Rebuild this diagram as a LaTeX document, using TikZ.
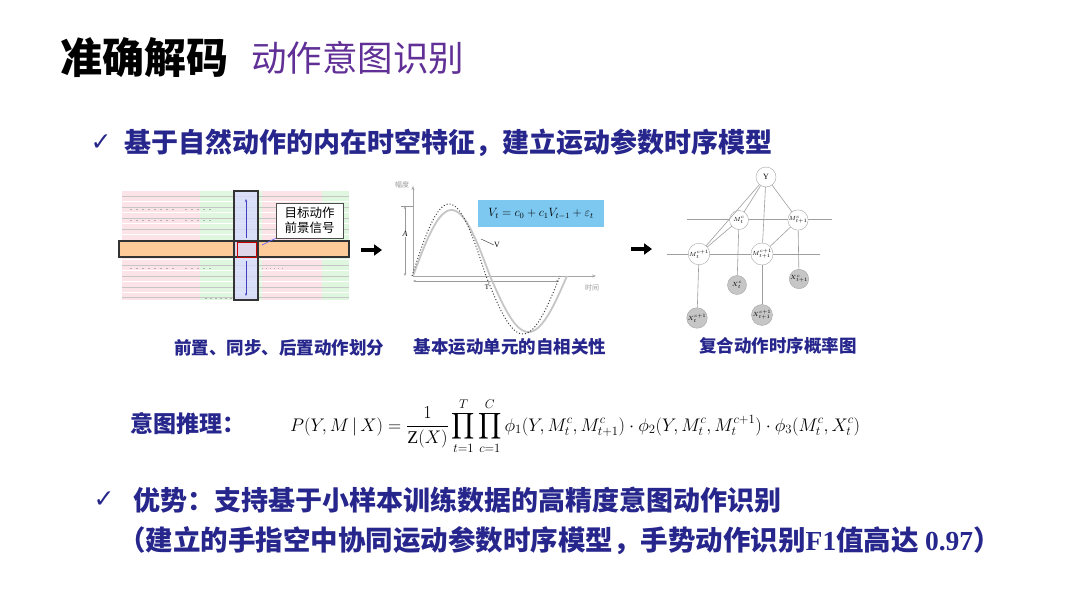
\documentclass[tikz,border=0pt]{standalone}
\usepackage{amsmath}
\usepackage{graphicx}
\usepackage{fontspec}
\setmainfont{Liberation Serif}
\newfontfamily\cjk{Noto Sans CJK SC}
\newfontfamily\sym{DejaVu Sans}
\newfontfamily\tms{Liberation Serif}
\usetikzlibrary{arrows.meta}
\definecolor{navy}{RGB}{38,38,140}
\definecolor{tpurple}{RGB}{96,48,150}
\definecolor{fboxc}{RGB}{125,200,240}
\definecolor{stripe}{RGB}{250,215,220}
\definecolor{stripeg}{RGB}{215,245,215}
\begin{document}
\begin{tikzpicture}[x=1pt,y=-1pt,
  txt/.style={inner sep=0pt, text=navy, font=\cjk\bfseries\fontsize{27}{31}\selectfont},
  captxt/.style={inner sep=0pt, text=navy, font=\cjk\bfseries\fontsize{17.5}{20}\selectfont},
  chk/.style={inner sep=0pt, text=navy, font=\sym\fontsize{25}{27}\selectfont},
  gnode/.style={circle, draw=gray!70, fill=white, minimum size=19pt, inner sep=0pt, font=\fontsize{6}{7}\selectfont},
  gobs/.style={gnode, fill=gray!45},
  gline/.style={draw=gray!75, line width=0.6pt},
  bigarrow/.style={line width=4pt, -{Triangle[length=8pt,width=11pt]}}
]
\useasboundingbox (0,0) rectangle (1080,608);
\fill[white] (0,0) rectangle (1080,608);

% ---------- titles ----------
\node[anchor=west, inner sep=0pt, font=\cjk\bfseries\fontsize{42}{46}\selectfont] (t1) at (60,58) {准确解码};
\node[anchor=west, inner sep=0pt, text=tpurple, font=\cjk\fontsize{35.5}{40}\selectfont] (t2) at (251,58) {动作意图识别};

\node[chk] (c1) at (101,143) {✓};
\node[txt, anchor=west] (l1) at (124,143) {基于自然动作的内在时空特征，建立运动参数时序模型};

% ---------- left image ----------
\fill[stripe!70] (122,191) rectangle (349,300);
\fill[stripeg!80] (200,191) rectangle (262,300);
\fill[stripeg!80] (322,191) rectangle (349,300);
\foreach \yy in {201.5,212.5,223.5,234.5,259.5,270.5,281.5,292.5}
  \draw[white, line width=1.6pt] (122,\yy) -- (349,\yy);
\foreach \yy in {196,207,218,229,265,276,287,297}
  \draw[gray!45, line width=0.5pt] (122,\yy) -- (349,\yy);
\draw[gray!60, line width=1pt, dash pattern=on 2pt off 4pt] (130,209) -- (175,209) (185,209) -- (215,209);
\draw[gray!60, line width=1pt, dash pattern=on 2pt off 4pt] (130,220) -- (175,220) (185,220) -- (215,220);
\draw[gray!60, line width=1pt, dash pattern=on 2pt off 4pt] (130,268) -- (175,268) (185,268) -- (215,268);
\draw[gray!60, line width=1pt, dash pattern=on 2pt off 3pt] (205,298) -- (232,298);
\draw[gray!60, line width=1pt, dash pattern=on 1pt off 3pt] (262,268) -- (285,268);
% horizontal highlight
\fill[orange!40] (119,241) rectangle (349,257);
% vertical highlight
\fill[blue!15, opacity=0.8] (234,191) rectangle (258,300);
\draw[black!80, line width=1.2pt] (119,241) rectangle (349,257);
\draw[black!80, line width=1.2pt] (234,191) rectangle (258,300);
\draw[red!80!black, line width=1pt] (237,242) rectangle (256,257);
\draw[blue!50!gray, line width=0.6pt, -{Stealth[length=3pt]}] (246,238) -- (246,199);
\draw[blue!50!gray, line width=0.6pt, -{Stealth[length=3pt]}] (246,261) -- (246,296);
\node[draw=black!70, fill=white, inner sep=2pt, line width=0.7pt, align=center,
      font=\cjk\fontsize{12.5}{15}\selectfont, minimum width=67pt, minimum height=35pt] (callout) at (309.5,220.5) {目标动作\\前景信号};
\coordinate (tgt) at (262,245);
\draw[blue!60, line width=0.7pt] (callout.south west) -- (tgt);

\node[captxt] (cap1) at (279,348) {前置、同步、后置动作划分};

% ---------- arrows ----------
\coordinate (a1s) at (361,250); \coordinate (a1e) at (382,250);
\draw[bigarrow] (a1s) -- (a1e);
\coordinate (a2s) at (631,249); \coordinate (a2e) at (652,249);
\draw[bigarrow] (a2s) -- (a2e);

% ---------- middle chart ----------
\coordinate (o) at (413,276);
\coordinate (ytop) at (413,186);
\coordinate (xend) at (596,276);
\draw[gray!70, line width=0.8pt, -{Stealth[length=4pt]}] (o) -- (ytop);
\draw[gray!70, line width=0.8pt, -{Stealth[length=4pt]}] (o) -- (xend);
\node[inner sep=0pt, text=gray!80, font=\cjk\fontsize{7}{8}\selectfont] (lamp) at (402,185) {幅度};
\node[inner sep=0pt, text=gray!80, font=\cjk\fontsize{7}{8}\selectfont] (ltime) at (592,288) {时间};
% amplitude A
\coordinate (atop) at (405,206); \coordinate (abot) at (405,276);
\draw[gray!80, line width=0.6pt, {Stealth[length=3pt]}-{Stealth[length=3pt]}] (atop) -- (abot);
\draw[gray!80, line width=0.5pt] (401,206) -- (413,206);
\node[inner sep=0.5pt, fill=white, font=\itshape\fontsize{8}{9}\selectfont] (la) at (405,234) {A};
% period T
\coordinate (ts) at (413,281); \coordinate (te) at (559,281);
\draw[gray!80, line width=0.6pt, {Stealth[length=3pt]}-{Stealth[length=3pt]}] (ts) -- (te);
\node[inner sep=0pt, font=\fontsize{7}{8}\selectfont] (lt) at (487,287) {T};
% curves
\draw[gray!45, line width=1.8pt] plot[domain=0:77, samples=40, smooth] ({413+\x},{276-66*sin(\x/154*360)})
   -- plot[domain=77:154, samples=40, smooth] ({413+\x},{276-56*sin(\x/154*360)});
\draw[black!75, line width=1pt, dotted] plot[domain=0:74, samples=40, smooth] ({412+\x},{276-72*sin(\x/148*360)})
   -- plot[domain=74:148, samples=40, smooth] ({412+\x},{276-58*sin(\x/148*360)});
% formula box
\node[fill=fboxc, inner sep=0pt, minimum width=126pt, minimum height=27pt, font=\fontsize{12}{14}\selectfont] (vf) at (541,213.5) {$V_t = c_0 + c_1 V_{t-1} + \varepsilon_t$};
\coordinate (vpt) at (481,239);
\node[inner sep=0pt, font=\fontsize{8}{9}\selectfont] (lv) at (497,245) {V};
\draw[black!70, line width=0.5pt] (lv.west) -- (vpt);

\node[captxt] (cap2) at (510,347) {基本运动单元的自相关性};

% ---------- graph ----------
\draw[gline] (687,219) -- (832,219);
\draw[gline] (667,254) -- (820,254);
\node[gnode, minimum size=20pt, font=\fontsize{8}{9}\selectfont] (Y) at (766,177) {Y};
\node[gnode] (m1) at (739,220) {$M_t^c$};
\node[gnode] (m2) at (798,220) {$M_{t+1}^c$};
\node[gnode] (m3) at (699,254) {$M_t^{c+1}$};
\node[gnode] (m4) at (762,254) {$M_{t+1}^{c+1}$};
\node[gobs] (x1) at (737,285) {$X_t^c$};
\node[gobs] (x2) at (799,279) {$X_{t+1}^c$};
\node[gobs] (x3) at (697,318) {$X_t^{c+1}$};
\node[gobs] (x4) at (762,315) {$X_{t+1}^{c+1}$};
\draw[gline] (Y) -- (m1);
\draw[gline] (Y) -- (m2);
\draw[gline] (Y) -- (m4);
\draw[gline] (Y) -- (m3);
\draw[gline] (m1) -- (m3);
\draw[gline] (m2) -- (m4);
\draw[gline] (m1) -- (x1);
\draw[gline] (m2) -- (x2);
\draw[gline] (m3) -- (x3);
\draw[gline] (m4) -- (x4);

\node[captxt] (cap3) at (778,346) {复合动作时序概率图};

% ---------- formula ----------
\node[inner sep=0pt, anchor=west, text=navy, font=\cjk\bfseries\fontsize{23}{26}\selectfont] (infer) at (130,424) {意图推理：};
\node[inner sep=0pt, anchor=west, font=\fontsize{17}{20}\selectfont] (eq) at (290,426)
 {\resizebox{570pt}{!}{$\displaystyle P(Y,M\,|\,X)=\frac{1}{\mathrm{Z}(X)}\prod_{t=1}^{T}\prod_{c=1}^{C}\phi_1(Y,M_t^c,M_{t+1}^c)\cdot\phi_2(Y,M_t^c,M_t^{c+1})\cdot\phi_3(M_t^c,X_t^c)$}};

% ---------- bottom ----------
\node[chk] (c2) at (104,500) {✓};
\node[txt, anchor=west] (b1) at (133,500) {优势：支持基于小样本训练数据的高精度意图动作识别};
\node[txt, anchor=west, font=\cjk\bfseries\fontsize{27.5}{31}\selectfont] (b2) at (118,541) {（建立的手指空中协同运动参数时序模型，手势动作识别{\tms\bfseries F1}值高达 {\tms\bfseries 0.97}）};
\end{tikzpicture}
\end{document}
